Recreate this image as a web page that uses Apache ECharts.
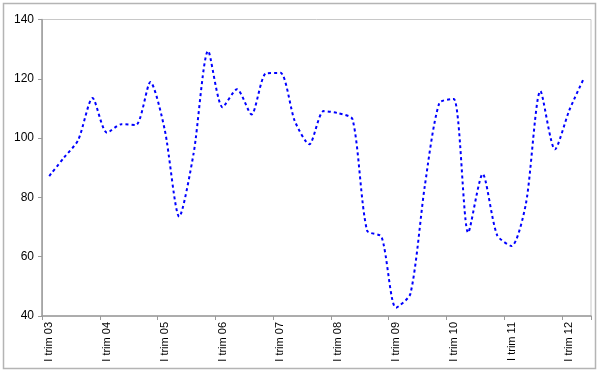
<!DOCTYPE html>
<html>
<head>
<meta charset="utf-8">
<script src="https://cdn.jsdelivr.net/npm/echarts@6/dist/echarts.min.js"></script>
<style>html,body{margin:0;padding:0;background:#fff}#c{width:600px;height:373px}</style>
</head>
<body>
<div id="c"></div>
<script>
var years = ['03','04','05','06','07','08','09','10','11','12'];
var quarterNames = ['I','II','III','IV'];
var values = [87.2, 93.3, 99.3, 113.5, 101.8, 104.7, 104.4, 118.9, 102.7, 73.5,
  95.0, 129.4, 110.4, 116.5, 108.0, 121.8, 122.0, 105.7, 97.9, 109.1,
  108.4, 106.3, 68.8, 66.7, 42.8, 47.5, 84.0, 111.8, 113.2, 68.1,
  87.9, 67.3, 63.6, 78.0, 115.9, 96.2, 109.4, 120.1];
var yTicks = {min: 40, max: 140, interval: 20};

var categories = [];
for (var i = 0; i < values.length; i++) {
  categories.push(quarterNames[i % 4] + ' trim ' + years[Math.floor(i / 4)]);
}

var chart = echarts.init(document.getElementById('c'), null, {renderer: 'canvas'});
chart.setOption({
  animation: false,
  backgroundColor: '#fff',
  graphic: [
    {type: 'rect', shape: {x: 3.5, y: 3.5, width: 592, height: 365}, style: {fill: 'none', stroke: '#b4b4b4', lineWidth: 1.5}, z: 0},
    {type: 'rect', shape: {x: 42.5, y: 19.5, width: 548.5, height: 296.5}, style: {fill: 'none', stroke: '#c8c8c8', lineWidth: 1}, z: 0}
  ],
  grid: {left: 42, right: 9, top: 19.5, bottom: 57, containLabel: false},
  xAxis: {
    type: 'category',
    data: categories,
    boundaryGap: true,
    axisLine: {lineStyle: {color: '#9a9a9a', width: 1.5}},
    axisTick: {show: true, interval: 3, length: 4, lineStyle: {color: '#9a9a9a'}},
    axisLabel: {interval: 3, rotate: 90, color: '#000', fontFamily: 'Liberation Sans, Arial', fontSize: 11, margin: 6},
    splitLine: {show: false}
  },
  yAxis: {
    type: 'value',
    min: yTicks.min, max: yTicks.max, interval: yTicks.interval,
    axisLine: {show: true, lineStyle: {color: '#9a9a9a', width: 1.5}},
    axisTick: {show: true, length: 4, lineStyle: {color: '#9a9a9a'}},
    axisLabel: {color: '#000', fontFamily: 'Liberation Sans, Arial', fontSize: 12, margin: 8},
    splitLine: {show: false}
  },
  series: [{
    type: 'line',
    data: values,
    smooth: 0.25,
    symbol: 'none',
    lineStyle: {color: '#0000ff', width: 2, type: [3, 3]}
  }]
});
</script>
</body>
</html>
